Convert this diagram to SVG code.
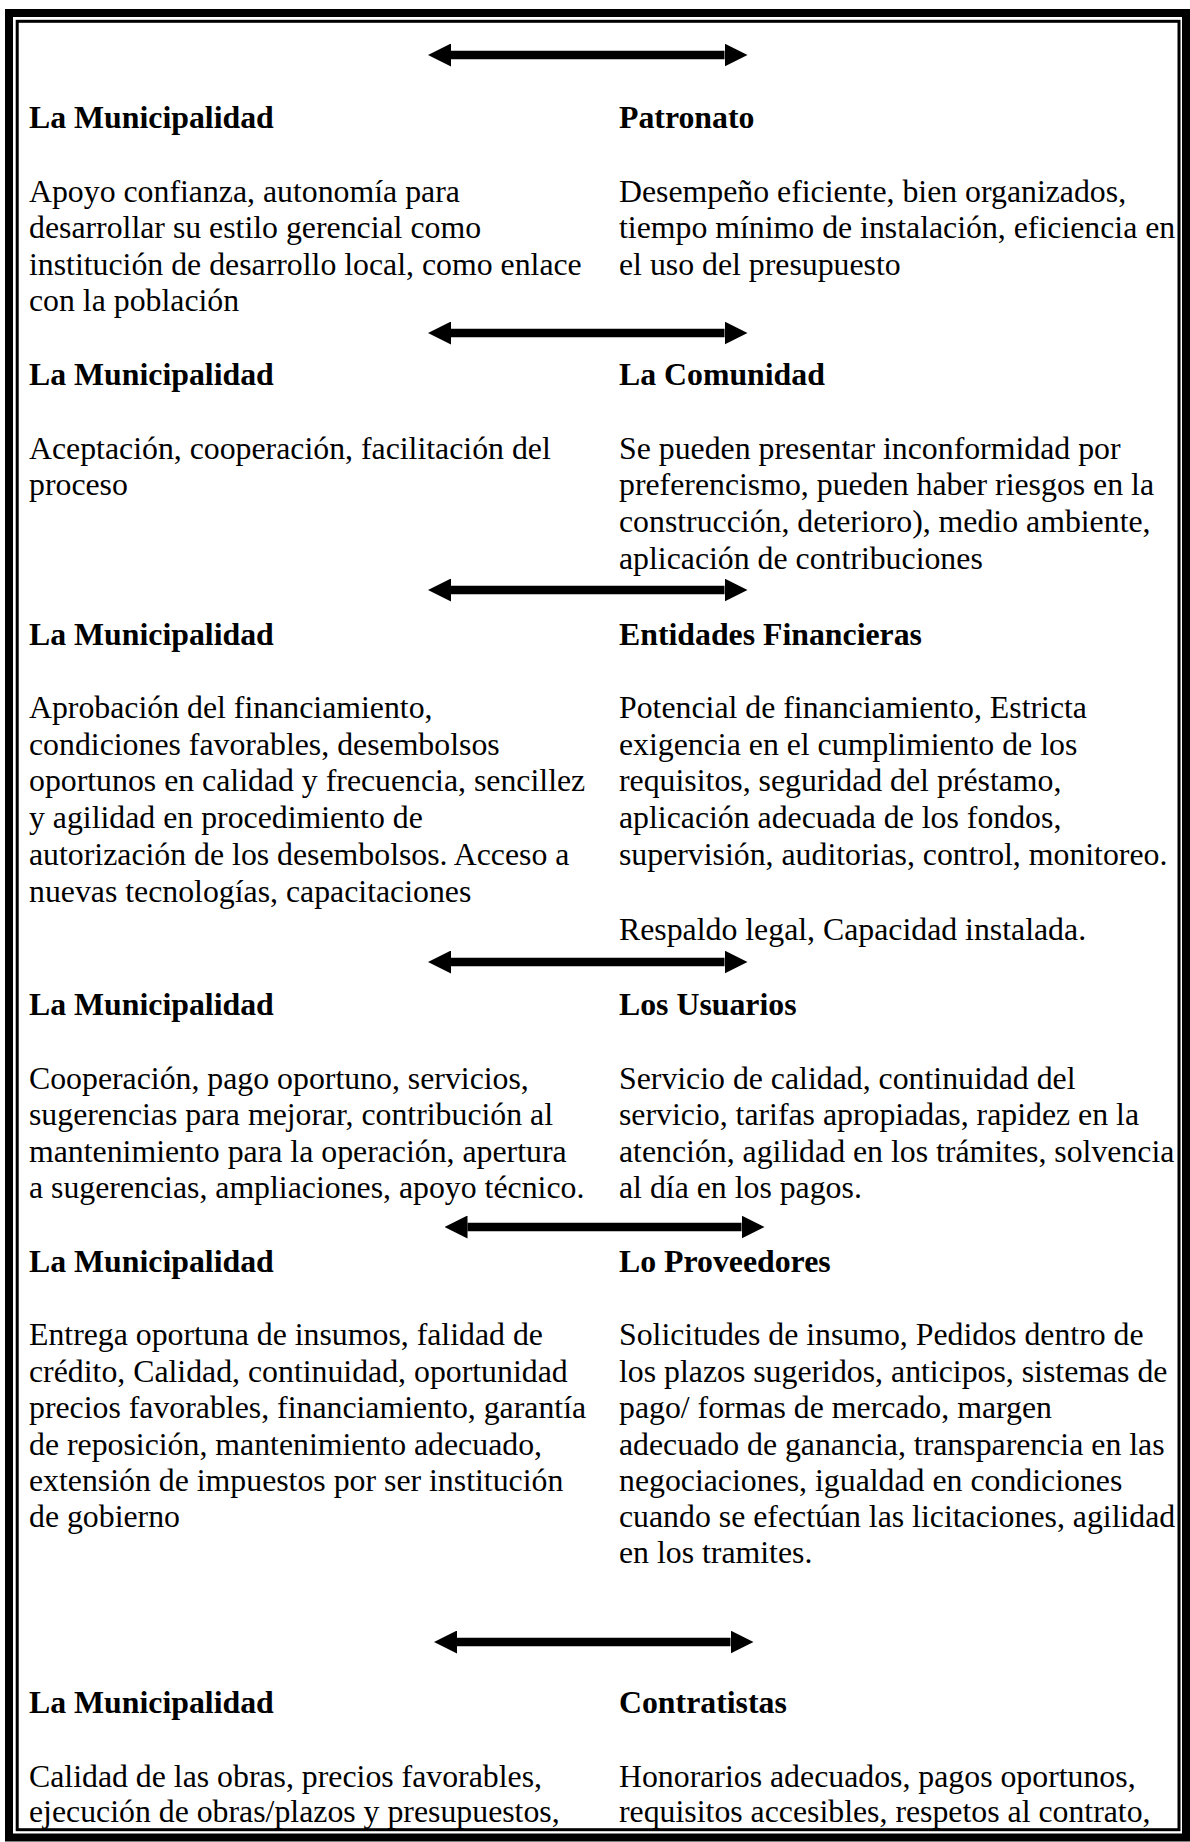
<svg xmlns="http://www.w3.org/2000/svg" width="1190" height="1842" viewBox="0 0 1190 1842">
  <defs>
    <marker id="head" markerUnits="userSpaceOnUse" markerWidth="23" markerHeight="23" viewBox="0 0 23 23" refX="0" refY="11.5" orient="auto-start-reverse">
      <path d="M0,0 L23,11.5 L0,23 Z" fill="#000"/>
    </marker>
  </defs>
  <style>
    text { font-family: "Liberation Serif", "Times New Roman", serif; font-size: 31.8px; fill: #000; }
    .h { font-weight: bold; }
    .frame-outer { fill: none; stroke: #000; stroke-width: 8; }
    .frame-inner { fill: none; stroke: #000; stroke-width: 3; }
    .link { stroke: #000; stroke-width: 8.5; fill: none; marker-start: url(#head); marker-end: url(#head); }
  </style>

  <rect width="1190" height="1842" fill="#fff"/>

  <!-- double frame: thick outside, thin inside -->
  <g id="frame">
    <rect class="frame-outer" x="9" y="13" width="1177" height="1824.5"/>
    <rect class="frame-inner" x="17.2" y="21.3" width="1161.8" height="1808.4"/>
  </g>

  <!-- two-way arrows between each pair -->
  <g id="connectors">
    <line class="link" x1="451" y1="55" x2="724.5" y2="55"/>
    <line class="link" x1="451" y1="333" x2="724.5" y2="333"/>
    <line class="link" x1="451" y1="590" x2="724.5" y2="590"/>
    <line class="link" x1="451" y1="962" x2="724.5" y2="962"/>
    <line class="link" x1="467.5" y1="1227" x2="741.5" y2="1227"/>
    <line class="link" x1="457" y1="1642" x2="730.5" y2="1642"/>
  </g>

  <!-- pair 1 -->
  <g id="municipalidad-1">
    <text class="h" x="29" y="128">La Municipalidad</text>
    <text>
      <tspan x="29" y="201.5">Apoyo confianza, autonomía para</tspan>
      <tspan x="29" y="238.2">desarrollar su estilo gerencial como</tspan>
      <tspan x="29" y="274.9">institución de desarrollo local, como enlace</tspan>
      <tspan x="29" y="311.3">con la población</tspan>
    </text>
  </g>
  <g id="patronato">
    <text class="h" x="619" y="128">Patronato</text>
    <text>
      <tspan x="619" y="201.5">Desempeño eficiente, bien organizados,</tspan>
      <tspan x="619" y="238.2">tiempo mínimo de instalación, eficiencia en</tspan>
      <tspan x="619" y="274.9">el uso del presupuesto</tspan>
    </text>
  </g>

  <!-- pair 2 -->
  <g id="municipalidad-2">
    <text class="h" x="29" y="385">La Municipalidad</text>
    <text>
      <tspan x="29" y="458.6">Aceptación, cooperación, facilitación del</tspan>
      <tspan x="29" y="495.3">proceso</tspan>
    </text>
  </g>
  <g id="comunidad">
    <text class="h" x="619" y="385">La Comunidad</text>
    <text>
      <tspan x="619" y="458.6">Se pueden presentar inconformidad por</tspan>
      <tspan x="619" y="495.3">preferencismo, pueden haber riesgos en la</tspan>
      <tspan x="619" y="532">construcción, deterioro), medio ambiente,</tspan>
      <tspan x="619" y="568.7">aplicación de contribuciones</tspan>
    </text>
  </g>

  <!-- pair 3 -->
  <g id="municipalidad-3">
    <text class="h" x="29" y="645">La Municipalidad</text>
    <text>
      <tspan x="29" y="718">Aprobación del financiamiento,</tspan>
      <tspan x="29" y="754.7">condiciones favorables, desembolsos</tspan>
      <tspan x="29" y="791.4">oportunos en calidad y frecuencia, sencillez</tspan>
      <tspan x="29" y="828.1">y agilidad en procedimiento de</tspan>
      <tspan x="29" y="864.8">autorización de los desembolsos. Acceso a</tspan>
      <tspan x="29" y="901.5">nuevas tecnologías, capacitaciones</tspan>
    </text>
  </g>
  <g id="entidades-financieras">
    <text class="h" x="619" y="645">Entidades Financieras</text>
    <text>
      <tspan x="619" y="718">Potencial de financiamiento, Estricta</tspan>
      <tspan x="619" y="754.7">exigencia en el cumplimiento de los</tspan>
      <tspan x="619" y="791.4">requisitos, seguridad del préstamo,</tspan>
      <tspan x="619" y="828.1">aplicación adecuada de los fondos,</tspan>
      <tspan x="619" y="864.8">supervisión, auditorias, control, monitoreo.</tspan>
      <tspan x="619" y="939.5">Respaldo legal, Capacidad instalada.</tspan>
    </text>
  </g>

  <!-- pair 4 -->
  <g id="municipalidad-4">
    <text class="h" x="29" y="1015">La Municipalidad</text>
    <text>
      <tspan x="29" y="1088.5">Cooperación, pago oportuno, servicios,</tspan>
      <tspan x="29" y="1125">sugerencias para mejorar, contribución al</tspan>
      <tspan x="29" y="1161.5">mantenimiento para la operación, apertura</tspan>
      <tspan x="29" y="1198">a sugerencias, ampliaciones, apoyo técnico.</tspan>
    </text>
  </g>
  <g id="usuarios">
    <text class="h" x="619" y="1015">Los Usuarios</text>
    <text>
      <tspan x="619" y="1088.5">Servicio de calidad, continuidad del</tspan>
      <tspan x="619" y="1125">servicio, tarifas apropiadas, rapidez en la</tspan>
      <tspan x="619" y="1161.5">atención, agilidad en los trámites, solvencia</tspan>
      <tspan x="619" y="1198">al día en los pagos.</tspan>
    </text>
  </g>

  <!-- pair 5 -->
  <g id="municipalidad-5">
    <text class="h" x="29" y="1271.5">La Municipalidad</text>
    <text>
      <tspan x="29" y="1345">Entrega oportuna de insumos, falidad de</tspan>
      <tspan x="29" y="1381.5">crédito, Calidad, continuidad, oportunidad</tspan>
      <tspan x="29" y="1418">precios favorables, financiamiento, garantía</tspan>
      <tspan x="29" y="1454.5">de reposición, mantenimiento adecuado,</tspan>
      <tspan x="29" y="1491">extensión de impuestos por ser institución</tspan>
      <tspan x="29" y="1527">de gobierno</tspan>
    </text>
  </g>
  <g id="proveedores">
    <text class="h" x="619" y="1271.5">Lo Proveedores</text>
    <text>
      <tspan x="619" y="1345">Solicitudes de insumo, Pedidos dentro de</tspan>
      <tspan x="619" y="1381.5">los plazos sugeridos, anticipos, sistemas de</tspan>
      <tspan x="619" y="1418">pago/ formas de mercado, margen</tspan>
      <tspan x="619" y="1454.5">adecuado de ganancia, transparencia en las</tspan>
      <tspan x="619" y="1491">negociaciones, igualdad en condiciones</tspan>
      <tspan x="619" y="1527">cuando se efectúan las licitaciones, agilidad</tspan>
      <tspan x="619" y="1563">en los tramites.</tspan>
    </text>
  </g>

  <!-- pair 6 -->
  <g id="municipalidad-6">
    <text class="h" x="29" y="1713.3">La Municipalidad</text>
    <text>
      <tspan x="29" y="1786.7">Calidad de las obras, precios favorables,</tspan>
      <tspan x="29" y="1822">ejecución de obras/plazos y presupuestos,</tspan>
    </text>
  </g>
  <g id="contratistas">
    <text class="h" x="619" y="1713.3">Contratistas</text>
    <text>
      <tspan x="619" y="1786.7">Honorarios adecuados, pagos oportunos,</tspan>
      <tspan x="619" y="1822">requisitos accesibles, respetos al contrato,</tspan>
    </text>
  </g>
</svg>
